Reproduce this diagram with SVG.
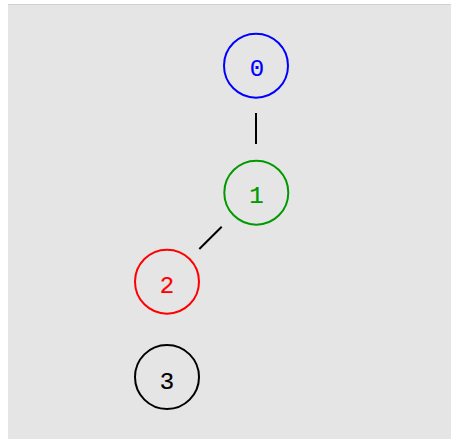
<svg xmlns="http://www.w3.org/2000/svg" width="451" height="439" viewBox="0 0 451 439">
<style>
.node circle{fill:none;stroke-width:2}
.node text{font-family:"Liberation Mono","DejaVu Sans Mono",monospace;font-size:24px;text-anchor:middle;stroke-width:0.2}
.edge{stroke:#000;stroke-width:2}
</style>
<rect x="0" y="0" width="451" height="439" fill="#ffffff"/>
<rect x="8" y="4" width="443" height="435" fill="#e5e5e5"/>
<line x1="8" y1="4.5" x2="451" y2="4.5" stroke="#d0d0d0" stroke-width="1"/>
<g id="connectors">
<line class="edge" x1="256" y1="113" x2="256" y2="144"/>
<line class="edge" x1="221.7" y1="226.7" x2="199.3" y2="249"/>
</g>
<g id="node0" class="node"><circle cx="256" cy="65.7" r="32" stroke="#0000ff"/><text x="257" y="76" fill="#0000ff" stroke="#0000ff">0</text></g>
<g id="node1" class="node"><circle cx="256.3" cy="192.7" r="32" stroke="#009900"/><text x="256.5" y="203" fill="#009900" stroke="#009900">1</text></g>
<g id="node2" class="node"><circle cx="167" cy="281.7" r="32" stroke="#ff0000"/><text x="167" y="292.5" fill="#ff0000" stroke="#ff0000">2</text></g>
<g id="node3" class="node"><circle cx="167" cy="377" r="32" stroke="#000000"/><text x="167" y="388.5" fill="#000000" stroke="#000000">3</text></g>
</svg>
